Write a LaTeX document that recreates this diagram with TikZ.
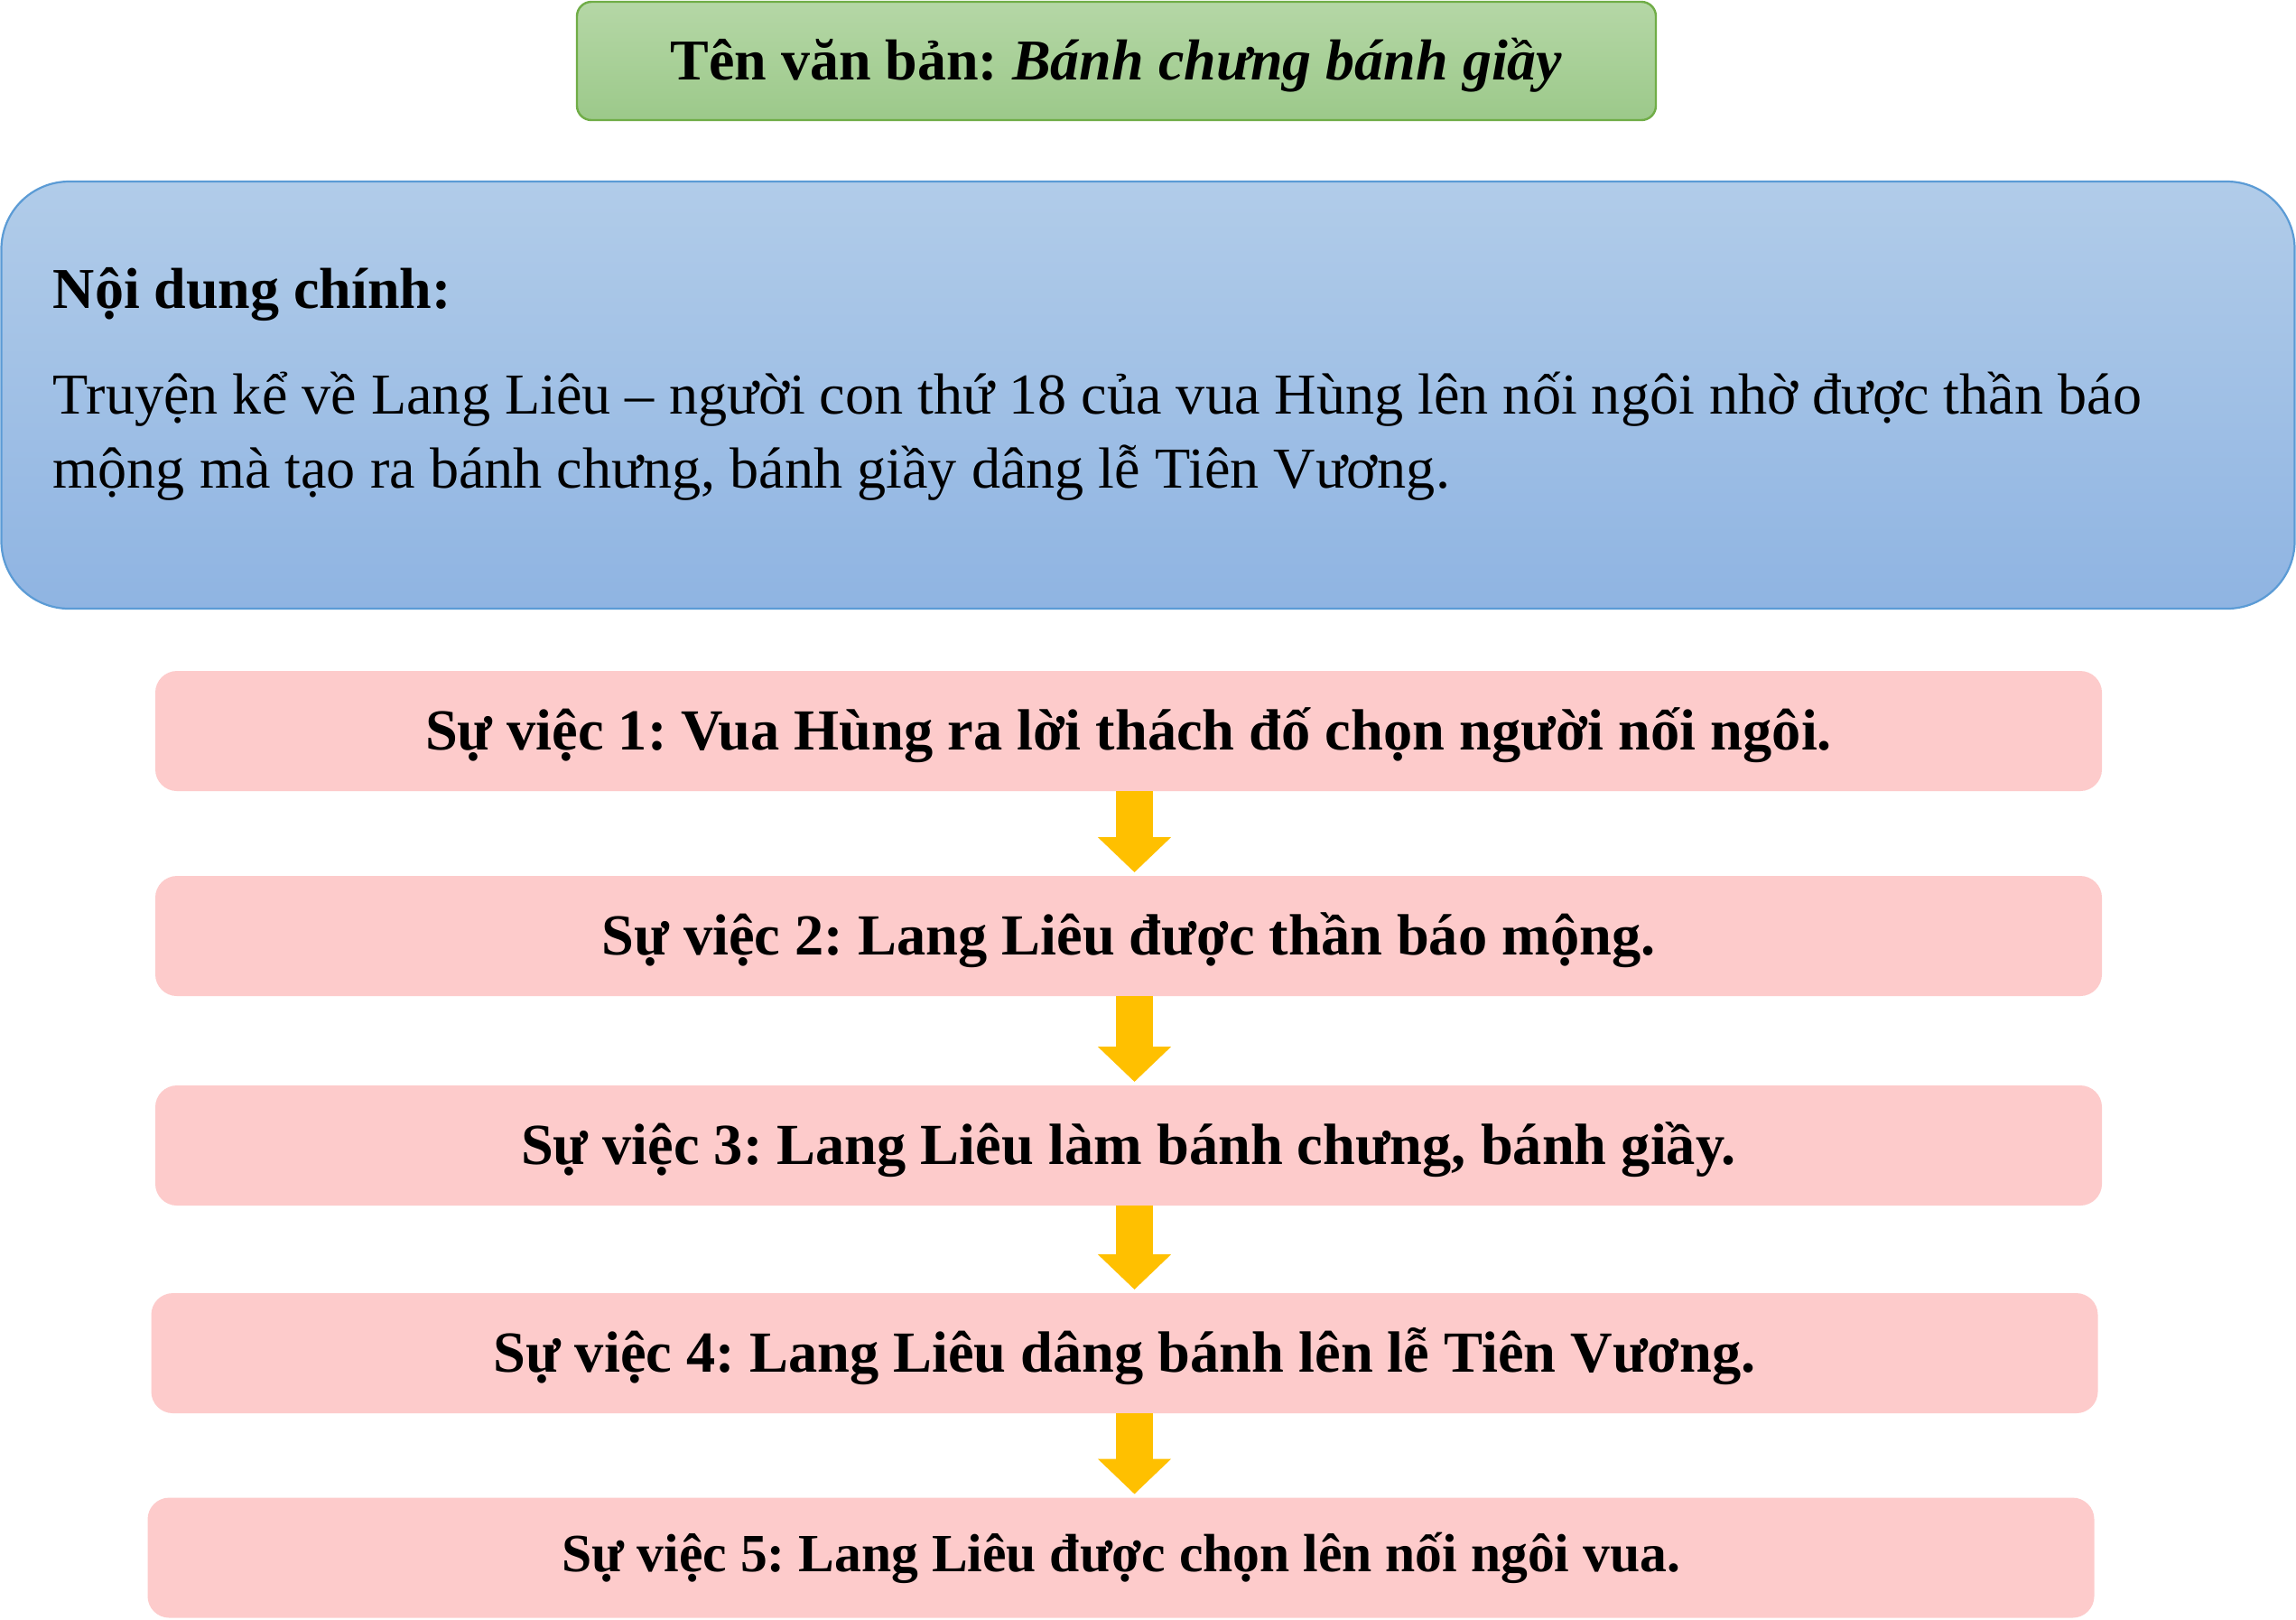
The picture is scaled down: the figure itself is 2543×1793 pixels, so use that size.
\documentclass[tikz,border=0pt]{standalone}
\usepackage{fontspec}
\setmainfont{Liberation Serif}
\usetikzlibrary{arrows.meta,calc}
\pgfdeclarelayer{background}
\pgfsetlayers{background,main}
\definecolor{greentop}{HTML}{B5D7A6}
\definecolor{greenbot}{HTML}{9CC98A}
\definecolor{greenline}{HTML}{70AD47}
\definecolor{bluetop}{HTML}{B1CCE9}
\definecolor{bluebot}{HTML}{8FB4E2}
\definecolor{blueline}{HTML}{5B9BD5}
\definecolor{pinkfill}{HTML}{FDCBCB}
\definecolor{arrowcol}{HTML}{FFC000}
\tikzset{
  titlebox/.style={rounded corners=4pt, top color=greentop, bottom color=greenbot,
    draw=greenline, line width=0.6pt, minimum width=298.75pt, minimum height=32.75pt,
    inner sep=0pt, outer sep=0pt, text height=10.6pt, text depth=0pt,
    font=\fontsize{16}{20}\selectfont\bfseries\frenchspacing},
  contentbox/.style={rounded corners=18.75pt, top color=bluetop, bottom color=bluebot,
    draw=blueline, line width=0.55pt, minimum width=635pt, minimum height=118.25pt,
    inner sep=0pt, outer sep=0pt},
  bodytext/.style={anchor=base west, inner sep=0pt, font=\fontsize{16.05}{20.75}\selectfont\frenchspacing},
  headtext/.style={anchor=base west, inner sep=0pt, font=\fontsize{16}{20.75}\selectfont\bfseries\frenchspacing},
  eventbox/.style={rounded corners=6pt, fill=pinkfill, draw=none,
    minimum width=539pt, minimum height=33.25pt, inner sep=0pt, outer sep=0pt,
    text height=10.6pt, text depth=0pt,
    font=\fontsize{16.1}{20}\selectfont\bfseries\frenchspacing},
  eventsmall/.style={eventbox, text height=7.7pt,
    font=\fontsize{14.9}{18}\selectfont\bfseries\frenchspacing},
  linkbar/.style={draw=arrowcol, line width=10.25pt, line cap=butt},
  linkarrow/.style={draw=arrowcol, fill=arrowcol, line width=10.25pt, line cap=butt,
    -{Triangle[width=19.75pt,length=9.75pt]}}
}
\begin{document}
\begin{tikzpicture}[x=0.25pt, y=-0.25pt]
\useasboundingbox (0,0) rectangle (2543,1793);
\fill[white] (0,0) rectangle (2543,1793);
\coordinate (ax) at (1256.5,0);

\node[titlebox] (title) at (1236.5,67.5) {Tên văn bản: \textit{Bánh chưng bánh giầy}};

\node[contentbox] (content) at (1271.5,437.5) {};
\node[headtext] (head) at (58,341) {Nội dung chính:};
\node[bodytext] (lineA) at (58,458) {Truyện kể về Lang Liêu – người con thứ 18 của vua Hùng lên nối ngôi nhờ được thần báo};
\node[bodytext] (lineB) at (58,540) {mộng mà tạo ra bánh chưng, bánh giầy dâng lễ Tiên Vương.};

\node[eventbox] (e1) at (1250,809.5) {Sự việc 1: Vua Hùng ra lời thách đố chọn người nối ngôi.};
\node[eventbox] (e2) at (1250,1036.5) {Sự việc 2: Lang Liêu được thần báo mộng.};
\node[eventbox] (e3) at (1250,1268.5) {Sự việc 3: Lang Liêu làm bánh chưng, bánh giầy.};
\node[eventbox] (e4) at (1245.5,1498.5) {Sự việc 4: Lang Liêu dâng bánh lên lễ Tiên Vương.};
\node[eventsmall] (e5) at (1241.5,1725) {Sự việc 5: Lang Liêu được chọn lên nối ngôi vua.};

\begin{pgfonlayer}{background}
\draw[linkbar] ($(title.south -| ax)+(0,5)$) -- (content.north -| ax);
\draw[linkbar] (content.south -| ax) -- (e1.north -| ax);
\end{pgfonlayer}
\draw[linkarrow] (e1.south -| ax) -- ($(e2.north -| ax)+(0,-4)$);
\draw[linkarrow] (e2.south -| ax) -- ($(e3.north -| ax)+(0,-4)$);
\draw[linkarrow] (e3.south -| ax) -- ($(e4.north -| ax)+(0,-4)$);
\draw[linkarrow] (e4.south -| ax) -- ($(e5.north -| ax)+(0,-4)$);
\end{tikzpicture}
\end{document}
